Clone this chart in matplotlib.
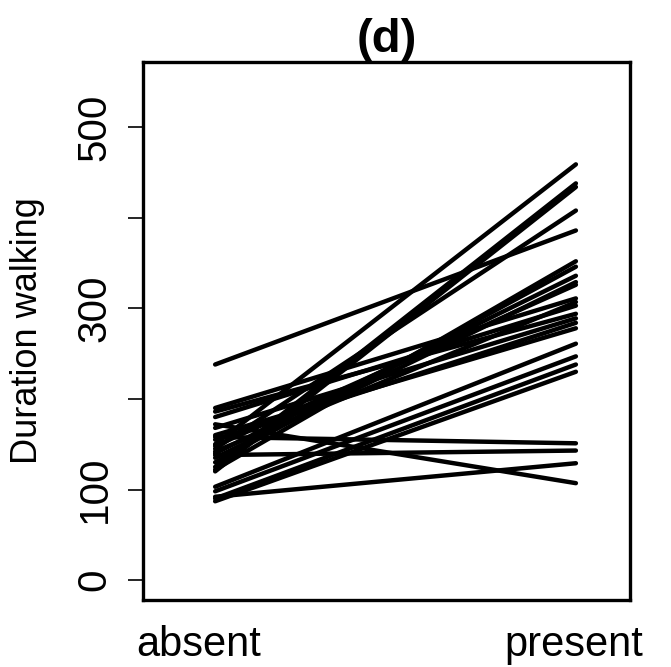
import matplotlib
matplotlib.use("Agg")
import matplotlib.pyplot as plt
import numpy as np

plt.rcParams['font.family'] = ['Liberation Sans', 'DejaVu Sans']

# durée de marche par individu (absent -> present)
absent = [238, 172, 158, 138, 92,
          150, 125, 120, 145,
          103, 98, 90, 87,
          190, 186, 180, 168, 160, 155, 148, 142, 140, 135, 130, 122]
present = [386, 107, 151, 143, 129,
           459, 438, 434, 408,
           261, 247, 238, 230,
           311, 294, 303, 289, 278, 284, 326, 307, 336, 329, 346, 352]

conditions = ["absent", "present"]
yticks = [0, 100, 200, 300, 400, 500]
ytick_labels = ["0", "100", "", "300", "", "500"]

fig = plt.figure(figsize=(6.71, 6.67), dpi=100)
ax = fig.add_axes([143/671, 67/667, 487/671, 538/667])

for a, p in zip(absent, present):
    ax.plot([1, 2], [a, p], color="black", lw=3.2, solid_capstyle="round")

ax.set_xlim(0.8, 2.15)
ax.set_ylim(-22, 572)

ax.set_yticks(yticks)
ax.set_yticklabels(ytick_labels, rotation=90, va="center", fontsize=29)
ax.tick_params(axis="y", length=11, width=1.2, pad=10)

# étiquettes de l'axe x
ax.set_xticks([0.953, 1.993])
ax.set_xticklabels(conditions, fontsize=30)
ax.tick_params(axis="x", length=0, pad=18)

for s in ax.spines.values():
    s.set_linewidth(2.4)

ax.set_ylabel("Duration walking", fontsize=26, labelpad=22)
ax.set_title("(d)", fontsize=34, fontweight="bold", pad=6)

fig.savefig("out.png", dpi=100)
